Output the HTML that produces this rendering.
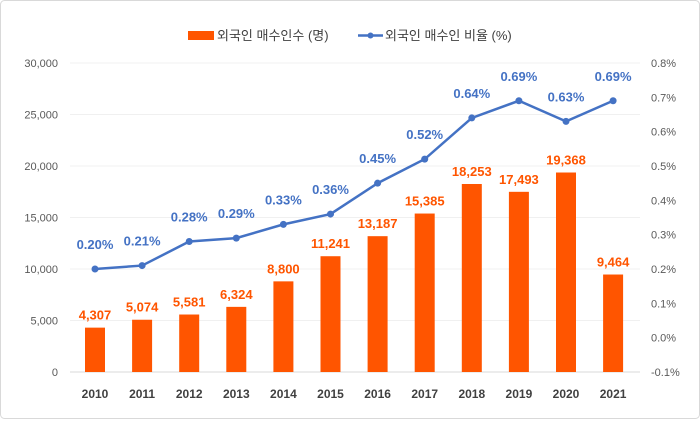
<!DOCTYPE html>
<html><head><meta charset="utf-8"><style>
body{margin:0;background:#fff;}
svg text{font-family:"Liberation Sans","Noto Sans CJK KR",sans-serif;}
</style></head><body>
<svg id="chart" width="700" height="419" xmlns="http://www.w3.org/2000/svg">
<rect x="0.5" y="0.5" width="699" height="418" rx="4" fill="#fff" stroke="#d9d9d9"/>
<g>
<rect x="188" y="31" width="26" height="9" fill="#ff5500"/>
<text x="217" y="40" font-size="13" fill="#404040">외국인 매수인수 (명)</text>
<line x1="358" y1="35.5" x2="383" y2="35.5" stroke="#4472c4" stroke-width="2.5"/>
<circle cx="370.5" cy="35.5" r="3" fill="#4472c4"/>
<text x="385" y="40" font-size="13" fill="#404040">외국인 매수인 비율 (%)</text>
</g>
<g id="grid"></g><g id="axes"></g><g id="bars"></g><g id="line"></g><g id="labels"></g>
</svg>
<script>
const categories=["2010","2011","2012","2013","2014","2015","2016","2017","2018","2019","2020","2021"];
const buyers=[4307,5074,5581,6324,8800,11241,13187,15385,18253,17493,19368,9464];
const ratio=[0.20,0.21,0.28,0.29,0.33,0.36,0.45,0.52,0.64,0.69,0.63,0.69];
const leftTicks=[0,5000,10000,15000,20000,25000,30000];
const rightTicks=[-0.1,0,0.1,0.2,0.3,0.4,0.5,0.6,0.7,0.8];
const NS="http://www.w3.org/2000/svg";
const yL=v=>372-v/30000*309;
const yR=v=>372-(v+0.1)/0.9*309;
const xC=i=>95+i*47.1;
function mk(t,a,p,txt){const e=document.createElementNS(NS,t);for(const k in a)e.setAttribute(k,a[k]);if(txt!=null)e.textContent=txt;document.getElementById(p).appendChild(e);return e;}
leftTicks.forEach(v=>{
 const g=mk('line',{x1:70,x2:640,y1:yL(v),y2:yL(v),stroke:v===0?'#d9d9d9':'#f0f0f0'},'grid');
 
 
 const t=mk('text',{x:58,y:yL(v)+4,'text-anchor':'end','font-size':11,fill:'#595959'},'axes',v.toLocaleString('en-US'));
 
 
});
rightTicks.forEach(v=>{
 const t=mk('text',{x:651,y:yR(v)+4,'font-size':11,fill:'#595959'},'axes',v.toFixed(1)+'%');
 
 
});
categories.forEach((c,i)=>{
 const t=mk('text',{x:xC(i),y:398,'text-anchor':'middle','font-size':12,'font-weight':'bold',fill:'#404040'},'axes',c);
 
 
 const b=mk('rect',{x:xC(i)-10,y:yL(buyers[i]),width:20,height:372-yL(buyers[i]),fill:'#ff5500'},'bars');
 
 
 const bl=mk('text',{x:xC(i),y:yL(buyers[i])-8,'text-anchor':'middle','font-size':13,'font-weight':'bold',fill:'#ff5500'},'labels',buyers[i].toLocaleString('en-US'));
 
 
});
const pl=mk('polyline',{points:ratio.map((v,i)=>xC(i)+','+yR(v)).join(' '),fill:'none',stroke:'#4472c4','stroke-width':2.5},'line');


ratio.forEach((v,i)=>{
 const p=mk('circle',{cx:xC(i),cy:yR(v),r:3.5,fill:'#4472c4'},'line');
 
 
 const l=mk('text',{x:xC(i),y:yR(v)-20,'text-anchor':'middle','font-size':13,'font-weight':'bold',fill:'#4472c4'},'labels',v.toFixed(2)+'%');
 
 
});
</script>
</body></html>
